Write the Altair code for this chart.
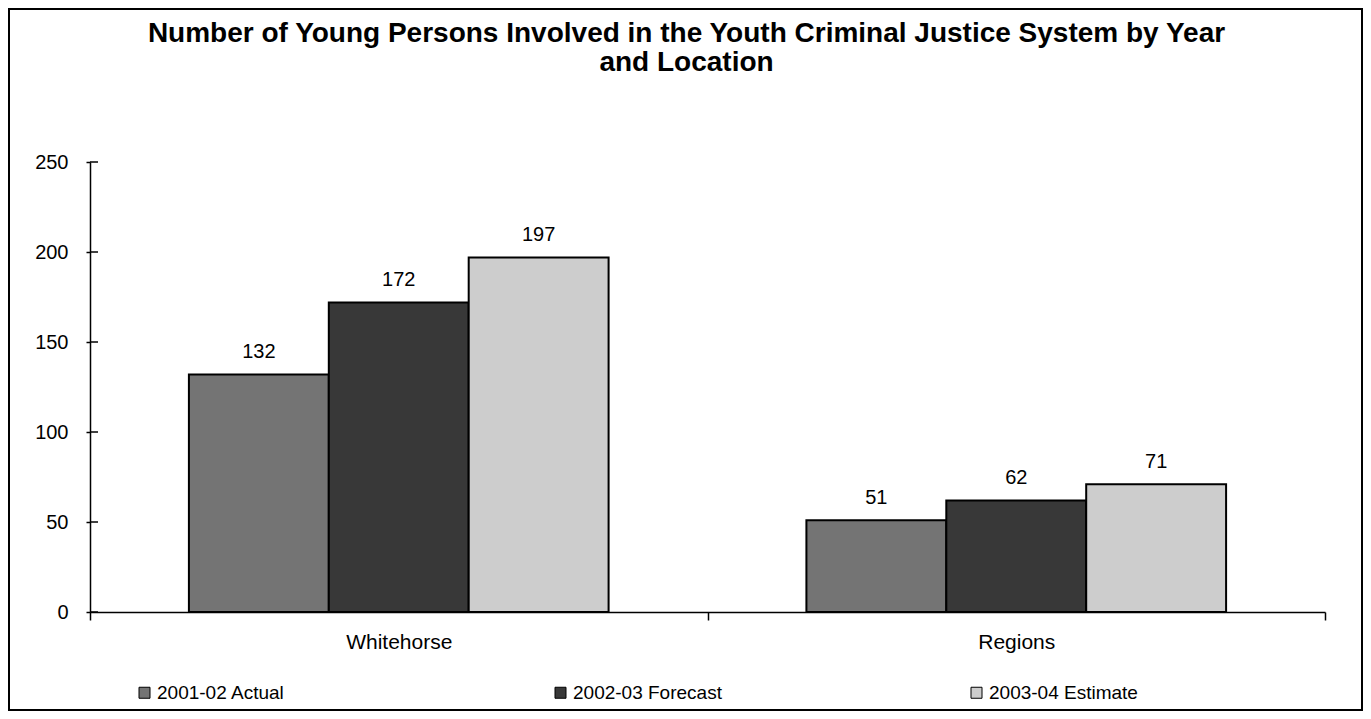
import altair as alt
import pandas as pd

locations = ["Whitehorse", "Whitehorse", "Whitehorse", "Regions", "Regions", "Regions"]
years = ["2001-02 Actual", "2002-03 Forecast", "2003-04 Estimate",
         "2001-02 Actual", "2002-03 Forecast", "2003-04 Estimate"]
values = [132, 172, 197, 51, 62, 71]
series = ["2001-02 Actual", "2002-03 Forecast", "2003-04 Estimate"]
series_colors = ["#747474", "#383838", "#cdcdcd"]
loc_order = ["Whitehorse", "Regions"]
y_ticks = [0, 50, 100, 150, 200, 250]

df = pd.DataFrame({"location": locations, "year": years, "value": values})
ticks_df = pd.DataFrame({"value": y_ticks})
frame_df = pd.DataFrame({"f": [0]})

FONT = "Liberation Sans"

y_axis = alt.Axis(values=y_ticks, labelFontSize=20, labelFont=FONT, labelColor="black",
                  tickSize=4, tickColor="black", tickWidth=1.5, grid=False, title=None,
                  domainColor="black", domainWidth=1.5, labelPadding=18)
y_enc = alt.Y("value:Q", title=None, scale=alt.Scale(domain=[0, 250], nice=False), axis=y_axis)

x_enc = alt.X("location:N", sort=loc_order, title=None,
              scale=alt.Scale(paddingInner=0, paddingOuter=0),
              axis=alt.Axis(labelAngle=0, labelFontSize=21, labelFont=FONT, labelColor="black",
                            tickBand="extent", tickSize=8, tickColor="black", tickWidth=1.5,
                            grid=False, domainColor="black", domainWidth=1.5, labelPadding=11))
xo_enc = alt.XOffset("year:N", sort=series,
                     scale=alt.Scale(paddingInner=0, paddingOuter=0.707))

bars = alt.Chart(df).mark_bar(stroke="black", strokeWidth=2).encode(
    x=x_enc,
    xOffset=xo_enc,
    y=y_enc,
    color=alt.Color("year:N", sort=series,
                    scale=alt.Scale(domain=series, range=series_colors),
                    legend=alt.Legend(title=None, orient="none", legendX=45, legendY=521,
                                      direction="horizontal", columns=3, columnPadding=245,
                                      gridAlign="all",
                                      symbolType="square", symbolSize=121,
                                      symbolStrokeColor="black", symbolStrokeWidth=1,
                                      labelFontSize=19, labelFont=FONT, labelColor="black",
                                      labelOffset=3)),
)

labels = alt.Chart(df).mark_text(baseline="alphabetic", dy=-16, fontSize=20, font=FONT,
                                 color="black").encode(
    x=alt.X("location:N", sort=loc_order),
    xOffset=xo_enc,
    y=y_enc,
    text=alt.Text("value:Q"),
)

right_ticks = alt.Chart(ticks_df).mark_rule(color="black", strokeWidth=1.5).encode(
    y=y_enc,
    x=alt.value(0),
    x2=alt.value(8),
)

frame = alt.Chart(frame_df).mark_rect(fillOpacity=0, stroke="black", strokeWidth=2).encode(
    x=alt.value(-81), x2=alt.value(1272), y=alt.value(-153), y2=alt.value(548)
)

chart = alt.layer(bars, labels, right_ticks, frame).properties(
    width=1235,
    height=450,
    background="white",
    autosize=alt.AutoSizeParams(type="none"),
    padding={"left": 82, "top": 154, "right": 38, "bottom": 99},
    title=alt.Title(
        ["Number of Young Persons Involved in the Youth Criminal Justice System by Year",
         "and Location"],
        fontSize=28, font=FONT, fontWeight="bold", color="black",
        anchor="middle", offset=-69, lineHeight=29, dx=-21),
).configure_view(stroke="transparent")

chart.save("out.html", embed_options={"renderer": "svg", "actions": False})
